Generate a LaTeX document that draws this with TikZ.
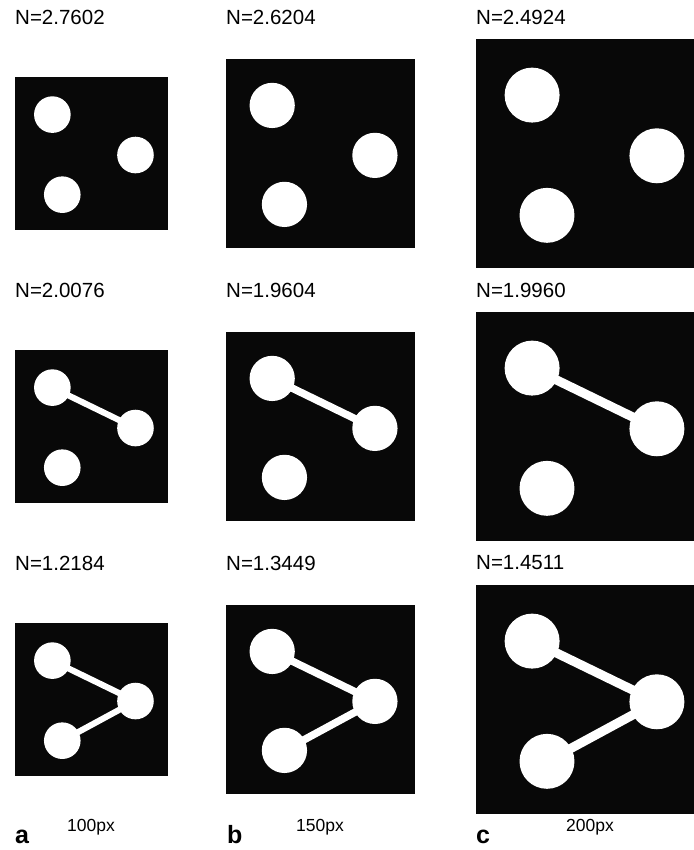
\documentclass[tikz,border=0pt]{standalone}
\usepackage{fontspec}
\setmainfont{Liberation Sans}
\usepackage{tikz}
\definecolor{imgblack}{RGB}{8,8,8}

\begin{document}
\begin{tikzpicture}[x=1pt,y=-1pt,
  blob/.style={circle,fill=white,draw=none,inner sep=0pt,minimum size=#1},
  bond/.style={draw=white,line width=#1},
  nlabel/.style={anchor=west,inner sep=0pt,font=\fontsize{20.5}{24}\selectfont},
  sizelabel/.style={anchor=base,inner sep=0pt,font=\fontsize{17.5}{21}\selectfont},
  letter/.style={anchor=base west,inner sep=0pt,font=\fontsize{25}{30}\selectfont\bfseries}]
\useasboundingbox (0,0) rectangle (693,850);
% left edge / size / bond width / row centre / N value / bonds / name
\foreach \L/\S/\lw/\Cy/\val/\links/\id in {
    15/152.5/6.1/153.5/2.7602/0/a1, 226/188.5/7.5/153.5/2.6204/0/b1, 476/229/9.2/153.5/2.4924/0/c1,
    15/152.5/6.1/426.5/2.0076/1/a2, 226/188.5/7.5/426.5/1.9604/1/b2, 476/229/9.2/426.5/1.9960/1/c2,
    15/152.5/6.1/699.5/1.2184/2/a3, 226/188.5/7.5/699.5/1.3449/2/b3, 476/229/9.2/699.5/1.4511/2/c3}{
  \pgfmathsetmacro\T{\Cy-\S/2}
  \pgfmathsetmacro\D{0.24*\S}
  \fill[imgblack] (\L,\T) rectangle ++(\S,\S);
  \node[nlabel] (\id-n) at (\L,\Cy-136.5) {N=\val};
  \node[blob=\D pt] (\id-1) at ({\L+0.245*\S},{\T+0.245*\S}) {};
  \node[blob=\D pt] (\id-2) at ({\L+0.79*\S},{\T+0.51*\S}) {};
  \node[blob=\D pt] (\id-3) at ({\L+0.31*\S},{\T+0.77*\S}) {};
  \ifnum\links>0 \draw[bond=\lw pt] (\id-1.center) -- (\id-2.center); \fi
  \ifnum\links>1 \draw[bond=\lw pt] (\id-3.center) -- (\id-2.center); \fi
}
% panel letters and image sizes
\node[letter] (let-a) at (15,843) {a};
\node[letter] (let-b) at (227,843) {b};
\node[letter] (let-c) at (476,843) {c};
\node[sizelabel] (size-a) at (91,831) {100px};
\node[sizelabel] (size-b) at (320,831) {150px};
\node[sizelabel] (size-c) at (590,831) {200px};
\end{tikzpicture}
\end{document}
